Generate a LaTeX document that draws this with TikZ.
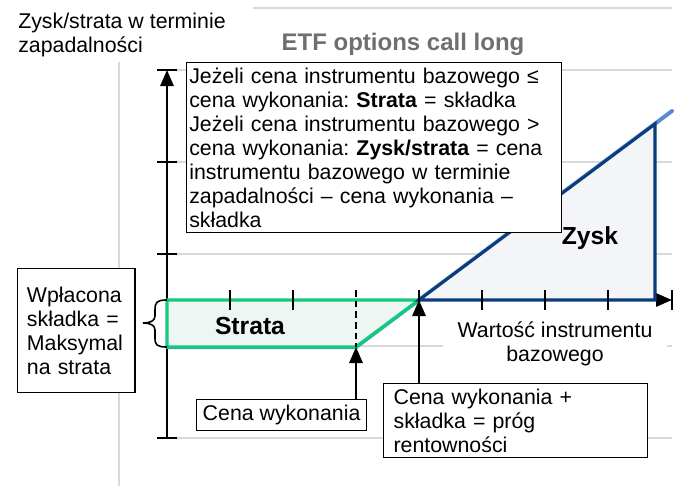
\documentclass[tikz,border=0pt]{standalone}
\usepackage{fontspec}
\setmainfont{Liberation Sans}
\usetikzlibrary{positioning, arrows.meta}
\definecolor{gridgray}{HTML}{D9D9D9}
\definecolor{titlegray}{HTML}{6F6F6F}
\definecolor{lossgreen}{HTML}{12C97D}
\definecolor{lossfill}{HTML}{EEF6F3}
\definecolor{gainblue}{HTML}{0B3C7C}
\definecolor{gainfill}{HTML}{F3F5F9}
\definecolor{payblue}{HTML}{5A8AD0}
\frenchspacing
\tikzset{
    txt/.style={font=\fontsize{16pt}{18pt}\selectfont},
    boldtxt/.style={font=\bfseries\fontsize{18.5pt}{20pt}\selectfont},
    infobox/.style={txt, draw, fill=white, line width=0.9pt, align=left},
    axline/.style={line width=1.5pt},
    gridline/.style={gridgray, line width=1.5pt},
    tri/.style={-{Triangle[width=10pt,length=12pt]}}
}

\begin{document}
\begin{tikzpicture}[x=0.75pt, y=-0.75pt]
        \useasboundingbox (0,0) rectangle (681,486);
        % grid in the background
        \foreach \y in {70,162,254,346,438} {
            \draw[gridline] (177,\y) -- (672,\y);
        }
        \draw[gridline] (253,8) -- (672,8);
        \draw[gridline] (119,62) -- (119,486);

        \coordinate (o) at (167,300);
        \coordinate (lo) at (167,347);
        \coordinate (strike) at (356,347);
        \coordinate (be) at (419,300);
        \coordinate (top) at (655,124);
        \coordinate (bot) at (655,300);
        \coordinate (tip) at (672,111);

        % axes
        \draw[axline, tri] (167,438) -- (167,70);
        \draw[axline, tri] (o) -- (672,300);

        % payoff
        \draw[payblue, line width=3pt, line cap=round] (lo) -- (strike) -- (tip);
        \draw[lossgreen, fill=lossfill, line width=2.6pt] (o) -- (be) -- (strike) -- (lo) -- cycle;
        \draw[gainblue, fill=gainfill, line width=2.3pt] (be) -- (top) -- (bot) -- cycle;

        \foreach \x in {230,293,419,482,545,608,672} {
            \draw[axline] (\x,290) -- (\x,310);
        }
        \foreach \y in {70,162,254,438} {
            \draw[axline] (157,\y) -- (177,\y);
        }
        \draw[axline, dash pattern=on 5pt off 3pt] (356,290) -- (strike);

        % brace
        \draw[line width=1.2pt] (o) .. controls (157,300) and (155,302) .. (155,310) -- (155,316)
            .. controls (155,321) and (150,323) .. (143,323)
            .. controls (150,323) and (155,325) .. (155,330) -- (155,338)
            .. controls (155,345) and (157,347) .. (lo);

        % texts
        \node[font=\bfseries\fontsize{18pt}{20pt}\selectfont, text=titlegray] (title) at (403,44) {ETF options call long};
        \node[txt, align=left, anchor=north west, inner sep=0pt] (ylab) at (18,13) {Zysk/strata w terminie\\zapadalności};
        \node[txt, align=center, fill=white, inner xsep=11pt, inner ysep=1pt] (xlab) at (555,344) {Wartość instrumentu\\bazowego};
        \node[boldtxt] (loss) at (250,326) {Strata};
        \node[boldtxt] (gain) at (590,238) {Zysk};

        % boxes
        \node[infobox, anchor=north west, text width=277pt, inner xsep=2pt, inner ysep=2pt, minimum height=127.5pt] (rule) at (186,62)
            {Jeżeli cena instrumentu bazowego ≤\\cena wykonania: \textbf{Strata} = składka\\Jeżeli cena instrumentu bazowego >\\cena wykonania: \textbf{Zysk/strata} = cena\\instrumentu bazowego w terminie\\zapadalności – cena wykonania –\\składka};
        \node[infobox, anchor=north west, text width=74pt, inner xsep=7pt, minimum height=93pt] (prem) at (17,268)
            {Wpłacona\\składka =\\Maksymal\\na strata};
        \node[infobox, anchor=north west, minimum width=127.5pt, minimum height=23.25pt, inner sep=2pt] (cw) at (196,399) {Cena wykonania};
        \node[infobox, anchor=north west, text width=183pt, inner xsep=7.5pt, inner ysep=1pt, minimum height=55.5pt] (bep) at (383,383)
            {Cena wykonania +\\składka = próg\\rentowności};

        % arrows
        \draw[axline, tri] (cw.north -| strike) -- (strike);
        \draw[axline, tri] (bep.north -| be) -- (be);
    \end{tikzpicture}
\end{document}
